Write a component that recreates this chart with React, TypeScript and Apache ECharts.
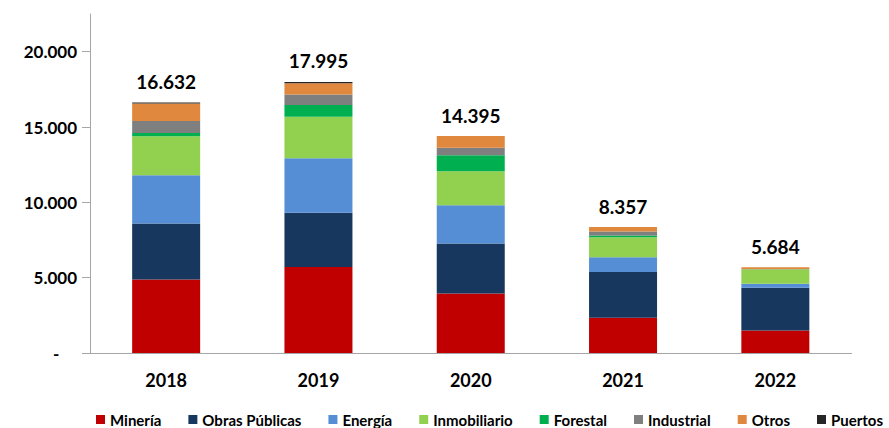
import React, { useEffect, useRef } from "react";
import * as echarts from "echarts";

const years = ["2018", "2019", "2020", "2021", "2022"];
const mineria = [4880, 5700, 3950, 2340, 1500];
const obrasPublicas = [3720, 3610, 3320, 3040, 2830];
const energia = [3190, 3620, 2530, 980, 270];
const inmobiliario = [2600, 2750, 2260, 1330, 960];
const forestal = [220, 780, 1060, 110, 0];
const industrial = [780, 690, 510, 270, 20];
const otros = [1170, 750, 765, 287, 104];
const puertos = [72, 95, 0, 0, 0];
const totals = [16632, 17995, 14395, 8357, 5684];
const yTicks = [0, 5000, 10000, 15000, 20000];

const FONT = "Lato";

const fmt = (v: number) => Math.round(v).toString().replace(/\B(?=(\d{3})+(?!\d))/g, ".");

export default function App() {
  const ref = useRef<HTMLDivElement>(null);
  useEffect(() => {
    if (!ref.current) return;
    const chart = echarts.init(ref.current, undefined, { renderer: "svg" });
    const seriesDefs: [string, number[], string][] = [
      ["Minería", mineria, "#C00000"],
      ["Obras Públicas", obrasPublicas, "#17375E"],
      ["Energía", energia, "#558ED5"],
      ["Inmobiliario", inmobiliario, "#92D050"],
      ["Forestal", forestal, "#00B050"],
      ["Industrial", industrial, "#7F7F7F"],
      ["Otros", otros, "#E0883E"],
      ["Puertos", puertos, "#262626"],
    ];
    const series: any[] = seriesDefs.map(([name, data, color]) => ({
      name,
      type: "bar",
      stack: "total",
      data,
      barWidth: 68,
      itemStyle: { color },
    }));
    series.push({
      name: "Total",
      type: "line",
      data: totals,
      symbol: "circle",
      symbolSize: 1,
      showSymbol: true,
      itemStyle: { color: "rgba(0,0,0,0)" },
      lineStyle: { opacity: 0 },
      label: {
        show: true,
        position: "top",
        distance: 11,
        formatter: (p: any) => fmt(p.value),
        fontFamily: FONT,
        fontWeight: "bold",
        fontSize: 19,
        color: "#000",
      },
      z: 10,
    });
    chart.setOption({
      animation: false,
      backgroundColor: "#fff",
      grid: { left: 90, right: 37.5, top: 14, bottom: 75, containLabel: false },
      legend: {
        data: seriesDefs.map((s) => s[0]),
        left: 96,
        top: 412,
        padding: 0,
        itemWidth: 9,
        itemHeight: 9,
        itemGap: 27,
        icon: "rect",
        textStyle: { fontFamily: FONT, fontWeight: "bold", fontSize: 15, color: "#000" },
      },
      xAxis: {
        type: "category",
        data: years,
        axisLine: { lineStyle: { color: "#A6A6A6", width: 1 } },
        axisTick: { show: false },
        axisLabel: {
          margin: 18,
          fontFamily: FONT,
          fontWeight: "bold",
          fontSize: 18,
          color: "#000",
        },
      },
      yAxis: {
        type: "value",
        min: 0,
        max: 22500,
        interval: 5000,
        splitLine: { show: false },
        axisLine: { show: true, lineStyle: { color: "#A6A6A6", width: 1 } },
        axisTick: { show: true, length: 8, customValues: yTicks, lineStyle: { color: "#A6A6A6" } },
        axisLabel: {
          customValues: yTicks,
          margin: 13,
          formatter: (v: number) => (v === 0 ? "{d|-}" : fmt(v)),
          rich: {
            d: {
              fontFamily: FONT,
              fontWeight: "bold",
              fontSize: 17,
              color: "#000",
              width: 24,
              align: "left",
            },
          },
          fontFamily: FONT,
          fontWeight: "bold",
          fontSize: 17,
          color: "#000",
        },
      },
      series,
    });
    return () => chart.dispose();
  }, []);
  return (
    <div
      ref={ref}
      style={{ position: "fixed", left: 0, top: 0, width: 889, height: 428, background: "#fff" }}
    />
  );
}
